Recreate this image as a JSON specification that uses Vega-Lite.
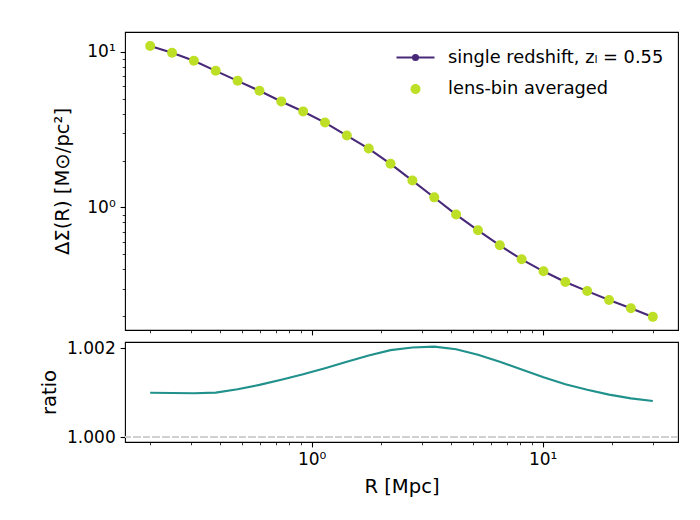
{
  "$schema": "https://vega.github.io/schema/vega-lite/v6.json",
  "background": "white",
  "padding": {"left": 38, "top": 31, "right": 5, "bottom": 5},
  "bounds": "flush",
  "spacing": 12,
  "config": {
    "font": "DejaVu Sans",
    "view": {"stroke": "black", "strokeWidth": 1.1},
    "axis": {
      "domain": false,
      "grid": false,
      "labelFont": "DejaVu Sans",
      "labelFontSize": 17,
      "labelColor": "black",
      "labelPadding": 4.9,
      "labelOverlap": false,
      "titleFont": "DejaVu Sans",
      "titleFontSize": 19.6,
      "titleFontWeight": "normal",
      "titleColor": "black",
      "tickColor": "black"
    }
  },
  "datasets": {
    "profile": [
      {"R": 0.2, "sigma": 10.889, "series": "single"},
      {"R": 0.2487, "sigma": 9.85, "series": "single"},
      {"R": 0.3092, "sigma": 8.751, "series": "single"},
      {"R": 0.3844, "sigma": 7.542, "series": "single"},
      {"R": 0.478, "sigma": 6.503, "series": "single"},
      {"R": 0.5943, "sigma": 5.613, "series": "single"},
      {"R": 0.7389, "sigma": 4.794, "series": "single"},
      {"R": 0.9188, "sigma": 4.134, "series": "single"},
      {"R": 1.1424, "sigma": 3.505, "series": "single"},
      {"R": 1.4204, "sigma": 2.895, "series": "single"},
      {"R": 1.766, "sigma": 2.386, "series": "single"},
      {"R": 2.1958, "sigma": 1.906, "series": "single"},
      {"R": 2.7302, "sigma": 1.487, "series": "single"},
      {"R": 3.3946, "sigma": 1.158, "series": "single"},
      {"R": 4.2207, "sigma": 0.899, "series": "single"},
      {"R": 5.2481, "sigma": 0.712, "series": "single"},
      {"R": 6.5251, "sigma": 0.57, "series": "single"},
      {"R": 8.1131, "sigma": 0.4633, "series": "single"},
      {"R": 10.088, "sigma": 0.3885, "series": "single"},
      {"R": 12.541, "sigma": 0.3316, "series": "single"},
      {"R": 15.596, "sigma": 0.2897, "series": "single"},
      {"R": 19.39, "sigma": 0.2538, "series": "single"},
      {"R": 24.11, "sigma": 0.2248, "series": "single"},
      {"R": 29.99, "sigma": 0.1978, "series": "single"},
      {"R": 0.2, "sigma": 10.9, "series": "avg"},
      {"R": 0.2487, "sigma": 9.86, "series": "avg"},
      {"R": 0.3092, "sigma": 8.76, "series": "avg"},
      {"R": 0.3844, "sigma": 7.55, "series": "avg"},
      {"R": 0.478, "sigma": 6.51, "series": "avg"},
      {"R": 0.5943, "sigma": 5.62, "series": "avg"},
      {"R": 0.7389, "sigma": 4.8, "series": "avg"},
      {"R": 0.9188, "sigma": 4.14, "series": "avg"},
      {"R": 1.1424, "sigma": 3.51, "series": "avg"},
      {"R": 1.4204, "sigma": 2.9, "series": "avg"},
      {"R": 1.766, "sigma": 2.39, "series": "avg"},
      {"R": 2.1958, "sigma": 1.91, "series": "avg"},
      {"R": 2.7302, "sigma": 1.49, "series": "avg"},
      {"R": 3.3946, "sigma": 1.16, "series": "avg"},
      {"R": 4.2207, "sigma": 0.901, "series": "avg"},
      {"R": 5.2481, "sigma": 0.713, "series": "avg"},
      {"R": 6.5251, "sigma": 0.571, "series": "avg"},
      {"R": 8.1131, "sigma": 0.464, "series": "avg"},
      {"R": 10.088, "sigma": 0.389, "series": "avg"},
      {"R": 12.541, "sigma": 0.332, "series": "avg"},
      {"R": 15.596, "sigma": 0.29, "series": "avg"},
      {"R": 19.39, "sigma": 0.254, "series": "avg"},
      {"R": 24.11, "sigma": 0.225, "series": "avg"},
      {"R": 29.99, "sigma": 0.198, "series": "avg"}
    ],
    "ratio": [
      {"R": 0.2, "ratio": 1.001},
      {"R": 0.2487, "ratio": 1.000996},
      {"R": 0.3092, "ratio": 1.00099},
      {"R": 0.3844, "ratio": 1.001004},
      {"R": 0.478, "ratio": 1.001079},
      {"R": 0.5943, "ratio": 1.001178},
      {"R": 0.7389, "ratio": 1.001294},
      {"R": 0.9188, "ratio": 1.001416},
      {"R": 1.1424, "ratio": 1.001554},
      {"R": 1.4204, "ratio": 1.001699},
      {"R": 1.766, "ratio": 1.001842},
      {"R": 2.1958, "ratio": 1.001961},
      {"R": 2.7302, "ratio": 1.00202},
      {"R": 3.3946, "ratio": 1.00204},
      {"R": 4.2207, "ratio": 1.001982},
      {"R": 5.2481, "ratio": 1.00186},
      {"R": 6.5251, "ratio": 1.001697},
      {"R": 8.1131, "ratio": 1.001525},
      {"R": 10.088, "ratio": 1.001352},
      {"R": 12.541, "ratio": 1.001194},
      {"R": 15.596, "ratio": 1.001068},
      {"R": 19.39, "ratio": 1.000958},
      {"R": 24.11, "ratio": 1.000873},
      {"R": 29.99, "ratio": 1.000816}
    ]
  },
  "vconcat": [
    {
      "width": 553,
      "height": 298,
      "data": {"name": "profile"},
      "encoding": {
        "x": {
          "field": "R",
          "type": "quantitative",
          "scale": {"type": "log", "domain": [0.1556, 38.55], "nice": false},
          "axis": {
            "title": null,
            "labels": false,
            "values": [0.2, 0.3, 0.4, 0.5, 0.6, 0.7, 0.8, 0.9, 1, 2, 3, 4, 5, 6, 7, 8, 9, 10, 20, 30],
            "tickSize": {"condition": {"test": "abs(log(datum.value)/LN10 - round(log(datum.value)/LN10)) < 0.001", "value": 4.9}, "value": 2.8},
            "tickWidth": {"condition": {"test": "abs(log(datum.value)/LN10 - round(log(datum.value)/LN10)) < 0.001", "value": 1.1}, "value": 0.8}
          }
        },
        "y": {
          "field": "sigma",
          "type": "quantitative",
          "scale": {"type": "log", "domain": [0.163, 13.4], "nice": false},
          "axis": {
            "title": "ΔΣ(R) [M⊙/pc²]",
            "titleAngle": -90,
            "titleAlign": "center",
            "titleBaseline": "middle",
            "titleX": -63,
            "titleY": 149,
            "values": [0.2, 0.3, 0.4, 0.5, 0.6, 0.7, 0.8, 0.9, 1, 2, 3, 4, 5, 6, 7, 8, 9, 10],
            "labelExpr": "datum.value == 1 ? '10⁰' : (datum.value == 10 ? '10¹' : '')",
            "tickSize": {"condition": {"test": "abs(log(datum.value)/LN10 - round(log(datum.value)/LN10)) < 0.001", "value": 4.9}, "value": 2.8},
            "tickWidth": {"condition": {"test": "abs(log(datum.value)/LN10 - round(log(datum.value)/LN10)) < 0.001", "value": 1.1}, "value": 0.8}
          }
        }
      },
      "layer": [
        {
          "transform": [{"filter": "datum.series == 'single'"}],
          "mark": {"type": "line", "color": "#482878", "strokeWidth": 2.1}
        },
        {
          "transform": [{"filter": "datum.series == 'single'"}],
          "mark": {"type": "point", "filled": true, "opacity": 1, "size": 25},
          "encoding": {
            "color": {
              "datum": "single redshift, zₗ = 0.55",
              "scale": {
                "domain": ["single redshift, zₗ = 0.55", "lens-bin averaged"],
                "range": ["#482878", "#bddf26"]
              },
              "legend": {
                "title": null,
                "orient": "none",
                "legendX": 279,
                "legendY": 14,
                "padding": 0,
                "labelFont": "DejaVu Sans",
                "labelFontSize": 17.8,
                "labelColor": "black",
                "labelLimit": 0,
                "labelOffset": 21,
                "rowPadding": 10.5,
                "symbolSize": 400,
                "symbolStrokeWidth": 2.1,
                "symbolOpacity": 1,
                "symbolType": {"expr": "datum.value == 'lens-bin averaged' ? 'M-0.5,0A0.5,0.5 0 1,1 0.5,0A0.5,0.5 0 1,1 -0.5,0Z' : 'M-1.9,0H-0.25A0.25,0.25 0 1,1 0.25,0A0.25,0.25 0 1,1 -0.25,0M0.25,0H1.9'"},
                "symbolStrokeColor": {"expr": "datum.value == 'lens-bin averaged' ? 'transparent' : '#482878'"}
              }
            }
          }
        },
        {
          "transform": [{"filter": "datum.series == 'avg'"}],
          "mark": {"type": "point", "filled": true, "opacity": 1, "size": 100},
          "encoding": {
            "color": {"datum": "lens-bin averaged"}
          }
        }
      ]
    },
    {
      "width": 553,
      "height": 100,
      "data": {"name": "ratio"},
      "layer": [
        {
          "mark": {"type": "rule", "color": "#d0d0d0", "strokeWidth": 1.8, "strokeDash": [6.7, 2.9]},
          "encoding": {
            "y": {"datum": 1, "type": "quantitative", "title": "ratio"}
          }
        },
        {
          "mark": {"type": "line", "color": "#21918c", "strokeWidth": 2.1},
          "encoding": {
            "x": {
              "field": "R",
              "type": "quantitative",
              "scale": {"type": "log", "domain": [0.1556, 38.55], "nice": false},
              "axis": {
                "title": "R [Mpc]",
                "titlePadding": 10,
                "values": [0.2, 0.3, 0.4, 0.5, 0.6, 0.7, 0.8, 0.9, 1, 2, 3, 4, 5, 6, 7, 8, 9, 10, 20, 30],
                "labelExpr": "datum.value == 1 ? '10⁰' : (datum.value == 10 ? '10¹' : '')",
                "tickSize": {"condition": {"test": "abs(log(datum.value)/LN10 - round(log(datum.value)/LN10)) < 0.001", "value": 4.9}, "value": 2.8},
                "tickWidth": {"condition": {"test": "abs(log(datum.value)/LN10 - round(log(datum.value)/LN10)) < 0.001", "value": 1.1}, "value": 0.8}
              }
            },
            "y": {
              "field": "ratio",
              "type": "quantitative",
              "scale": {"domain": [0.99989, 1.002145], "nice": false, "zero": false},
              "axis": {
                "title": "ratio",
                "titleAngle": -90,
                "titleAlign": "center",
                "titleBaseline": "middle",
                "titleX": -76,
                "titleY": 50,
                "values": [1.0, 1.002],
                "format": ".3f",
                "tickSize": 4.9,
                "tickWidth": 1.1
              }
            }
          }
        }
      ]
    }
  ]
}
